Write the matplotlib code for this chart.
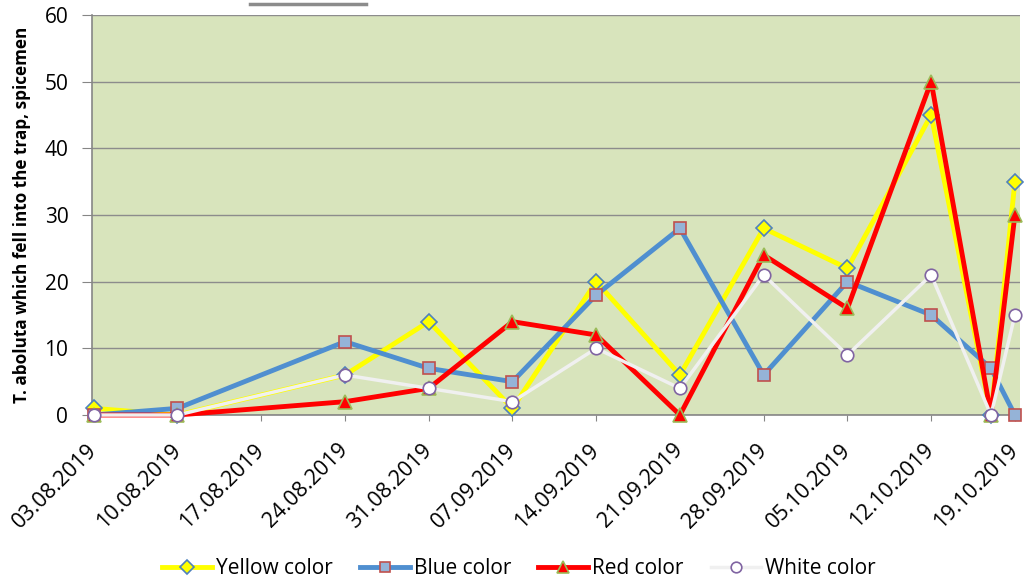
import numpy as np
import pandas as pd
import matplotlib
matplotlib.use("Agg")
import matplotlib.pyplot as plt
from matplotlib.lines import Line2D

# ----- trap counts per sampling date --------------------------------
dates = ["03.08.2019", "10.08.2019", "24.08.2019", "31.08.2019", "07.09.2019",
         "14.09.2019", "21.09.2019", "28.09.2019", "05.10.2019", "12.10.2019",
         "17.10.2019", "19.10.2019"]
yellow = [1, 0, 6, 14, 1, 20, 6, 28, 22, 45, 0, 35]
blue   = [0, 1, 11, 7, 5, 18, 28, 6, 20, 15, 7, 0]
red    = [0, 0, 2, 4, 14, 12, 0, 24, 16, 50, 0, 30]
white  = [0, 0, 6, 4, 2, 10, 4, 21, 9, 21, 0, 15]

tick_dates = pd.date_range("2019-08-03", "2019-10-19", freq="7D")
x = pd.to_datetime(dates, format="%d.%m.%Y")

plt.rcParams['font.family'] = ['Open Sans', 'DejaVu Sans']

fig = plt.figure(figsize=(10.24, 5.81), dpi=100)
ax = fig.add_axes([0.0898, 0.2857, 0.906, 0.6886])
ax.set_facecolor('#d8e4bc')

# series: (values, line colour, line width, marker, face, edge, size, label)
series = [
    (yellow, '#ffff00', 3.5, 'D', '#ffff00', '#4f81bd', 8, 'Yellow color'),
    (blue,   '#4f8fd0', 3.5, 's', '#95b3d7', '#c0504d', 9, 'Blue color'),
    (red,    '#ff0000', 3.5, '^', '#ff0000', '#9bbb59', 10, 'Red color'),
    (white,  '#f0f0f0', 2.5, 'o', '#ffffff', '#8064a2', 9, 'White color'),
]
for vals, lc, lw, mk, fc, ec, ms, lab in series:
    ax.plot(x, vals, color=lc, lw=lw, marker=mk, markerfacecolor=fc,
            markeredgecolor=ec, markeredgewidth=1.2, markersize=ms,
            label=lab, clip_on=False, zorder=3)

ax.set_ylim(0, 60)
ax.set_yticks(np.arange(0, 61, 10))
ax.set_xlim(tick_dates[0] - pd.Timedelta(days=0.15),
            tick_dates[-1] + pd.Timedelta(days=0.4))
ax.set_xticks(tick_dates)
ax.set_xticklabels([d.strftime("%d.%m.%Y") for d in tick_dates],
                   rotation=45, ha='right', va='center',
                   rotation_mode='anchor', fontsize=15.5)
ax.tick_params(axis='y', labelsize=15, color='#868686', length=7, pad=10)
ax.tick_params(axis='x', color='#868686', length=4, pad=19)

ax.yaxis.grid(True, color='#8c8c8c', lw=1.0)
ax.set_axisbelow(True)
for side in ['top', 'right']:
    ax.spines[side].set_visible(False)
for side in ['left', 'bottom']:
    ax.spines[side].set_color('#868686')
    ax.spines[side].set_linewidth(1.2)

ax.set_ylabel('T. abolutа which fell into the trap, spicemen',
              fontsize=12.3, fontweight='bold', labelpad=10)

ax.legend(loc='lower center', bbox_to_anchor=(0.46, -0.457), ncol=4,
          frameon=False, fontsize=15, handlelength=2.4, handletextpad=0.2,
          columnspacing=1.3, markerscale=0.85)

# small grey bar above the plot area
fig.add_artist(Line2D([250 / 1024, 366 / 1024], [1 - 4 / 581, 1 - 4 / 581],
                      color='#8c8c8c', lw=2.5))

fig.savefig("out.png", dpi=100)
